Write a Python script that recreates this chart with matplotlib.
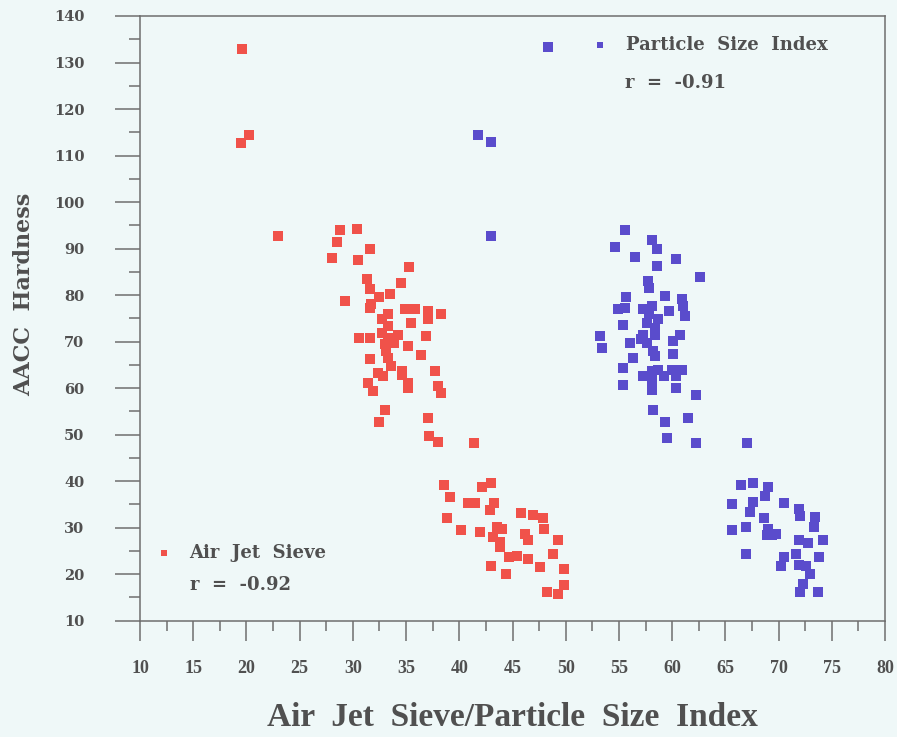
import matplotlib.pyplot as plt
import numpy as np
from matplotlib.ticker import MultipleLocator

# Air Jet Sieve vs AACC hardness
ajs_x = [19.6, 20.2, 19.5, 23.0,
         28.8, 30.4, 28.5, 31.6, 28.0, 30.5, 35.3, 31.3, 34.5, 31.6, 33.5, 32.5,
         29.3, 31.7, 31.6, 33.3, 34.9, 35.8, 37.1, 38.3, 37.1, 35.5, 32.7, 33.3,
         32.7, 30.6, 31.6, 33.3, 34.2, 36.9, 33.0, 33.9, 35.2, 33.1, 36.4, 31.6,
         33.3, 33.6, 32.4, 34.6, 32.8, 37.7, 31.4, 35.2, 31.9, 35.2, 38.0, 38.3,
         34.6, 33.0, 32.5, 37.1, 37.2, 38.0,
         41.4, 38.6, 39.1, 42.1, 43.0, 40.8, 41.5, 43.3, 42.9, 38.8, 40.2, 41.9,
         43.5, 44.0, 43.2, 43.8, 43.8, 45.8, 46.9, 47.9, 48.0, 46.2, 46.5, 49.3,
         48.8, 44.7, 45.4, 46.5, 47.6, 43.0, 44.4, 49.8, 49.8, 48.2, 49.3]
ajs_y = [133.0, 114.5, 112.8, 92.7,
         93.9, 94.2, 91.5, 89.9, 87.9, 87.6, 86.0, 83.4, 82.7, 81.3, 80.2, 79.5,
         78.7, 78.0, 77.3, 75.9, 77.0, 77.0, 76.6, 75.9, 74.8, 74.1, 74.8, 73.4,
         71.9, 70.8, 70.8, 70.8, 71.5, 71.2, 69.4, 69.8, 69.0, 68.0, 67.2, 66.2,
         66.5, 64.7, 63.3, 63.6, 62.6, 63.6, 61.1, 61.1, 59.3, 60.0, 60.4, 59.0,
         62.8, 55.4, 52.8, 53.5, 49.6, 48.5,
         48.2, 39.2, 36.6, 38.8, 39.5, 35.2, 35.3, 35.2, 33.8, 32.0, 29.4, 29.1,
         30.1, 29.8, 28.0, 26.9, 25.8, 33.2, 32.7, 32.0, 29.8, 28.7, 27.3, 27.3,
         24.4, 23.7, 24.0, 23.3, 21.5, 21.7, 20.1, 21.2, 17.6, 16.1, 15.8]

# Particle Size Index vs AACC hardness
psi_x = [48.3, 41.8, 43.0, 43.0,
         55.6, 54.6, 58.1, 58.6, 56.5, 60.4, 58.6, 62.6, 57.7, 57.8, 59.3, 55.7,
         60.9, 54.9, 55.6, 57.3, 58.1, 59.7, 61.0, 61.2, 57.8, 57.6, 58.7, 55.4,
         58.4, 57.3, 58.4, 60.7, 53.2, 53.4, 57.1, 56.0, 57.6, 60.1, 58.2, 58.4,
         60.1, 56.3, 55.4, 57.3, 58.1, 58.7, 60.0, 60.9, 59.2, 60.4, 58.1, 55.4,
         58.1, 60.4, 62.2, 58.2, 61.5, 59.3, 59.5, 62.2,
         67.0, 66.5, 67.6, 69.0, 68.7, 67.6, 65.6, 70.5, 67.3, 71.9, 72.0, 68.6,
         73.4, 73.3, 65.6, 66.9, 69.0, 69.4, 69.8, 68.9, 71.9, 72.8, 74.2, 66.9,
         71.6, 73.8, 70.5, 70.2, 71.9, 72.6, 73.0, 72.3, 72.0, 73.7]
psi_y = [133.3, 114.5, 113.0, 92.7,
         94.1, 90.3, 91.9, 89.9, 88.1, 87.7, 86.3, 83.8, 83.1, 81.5, 79.8, 79.5,
         79.1, 77.0, 77.2, 77.0, 77.7, 76.6, 77.7, 75.5, 75.9, 74.1, 74.8, 73.5,
         73.0, 71.5, 71.5, 71.5, 71.2, 68.7, 70.5, 69.8, 69.8, 70.1, 68.0, 66.9,
         67.3, 66.5, 64.4, 62.6, 63.6, 63.8, 64.0, 64.0, 62.6, 62.6, 61.5, 60.7,
         59.7, 60.0, 58.6, 55.4, 53.5, 52.8, 49.2, 48.3,
         48.2, 39.2, 39.7, 38.8, 36.8, 35.6, 35.1, 35.4, 33.4, 34.1, 32.6, 32.0,
         32.2, 30.1, 29.4, 30.1, 29.8, 28.4, 28.7, 28.4, 27.4, 26.6, 27.4, 24.4,
         24.4, 23.8, 23.7, 21.7, 21.9, 21.7, 20.1, 17.9, 16.1, 16.1]

bg = '#eff8f8'
grey = '#6e6e6e'
txt = '#505050'

fig = plt.figure(figsize=(8.97, 7.37), dpi=100, facecolor=bg)
ax = fig.add_axes([0.1561, 0.1578, 0.8305, 0.8205])
ax.set_facecolor(bg)

red = ax.scatter(ajs_x, ajs_y, marker='s', s=58, color='#f0524a', linewidths=0,
                 label='Air  Jet  Sieve')
blue = ax.scatter(psi_x, psi_y, marker='s', s=58, color='#5a4ccc', linewidths=0,
                  label='Particle  Size  Index')

ax.set_xlim(10, 80)
ax.set_ylim(10, 140)
ax.xaxis.set_major_locator(MultipleLocator(5))
ax.xaxis.set_minor_locator(MultipleLocator(2.5))
ax.yaxis.set_major_locator(MultipleLocator(10))
ax.yaxis.set_minor_locator(MultipleLocator(5))

for s in ax.spines.values():
    s.set_color(grey)
    s.set_linewidth(1.1)

ax.tick_params(axis='x', which='major', length=14.5, width=1.1, color=grey, pad=14)
ax.tick_params(axis='x', which='minor', length=7.5, width=1.1, color=grey)
ax.tick_params(axis='y', which='major', length=18, width=1.1, color=grey, pad=22)
ax.tick_params(axis='y', which='minor', length=8, width=1.1, color=grey)

for lab in ax.get_xticklabels():
    lab.set_fontfamily('Liberation Serif')
    lab.set_fontweight('bold')
    lab.set_fontsize(13)
    lab.set_color(txt)
for lab in ax.get_yticklabels():
    lab.set_fontfamily('DejaVu Serif')
    lab.set_fontweight('bold')
    lab.set_fontsize(10.5)
    lab.set_color(txt)

ax.set_xlabel('Air  Jet  Sieve/Particle  Size  Index', fontfamily='Liberation Serif',
              fontweight='bold', fontsize=24, color=txt, labelpad=18)
ax.set_ylabel('AACC  Hardness', fontfamily='DejaVu Serif', fontweight='bold',
              fontsize=16, color=txt)
ax.yaxis.set_label_coords(-0.141, 0.54)

# legends
leg_kw = dict(frameon=False, handlelength=1.0, handletextpad=0.9, borderpad=0,
              borderaxespad=0, markerscale=0.6,
              prop={'family': 'DejaVu Serif', 'weight': 'bold', 'size': 13})
leg1 = ax.legend(handles=[blue], loc='center left', bbox_to_anchor=(0.606, 0.952), **leg_kw)
for t in leg1.get_texts():
    t.set_color(txt)
ax.add_artist(leg1)
leg2 = ax.legend(handles=[red], loc='center left', bbox_to_anchor=(0.02, 0.112), **leg_kw)
for t in leg2.get_texts():
    t.set_color(txt)

ax.text(0.651, 0.89, 'r  =  -0.91', transform=ax.transAxes, va='center',
        fontfamily='DejaVu Serif', fontweight='bold', fontsize=13, color=txt)
ax.text(0.067, 0.059, 'r  =  -0.92', transform=ax.transAxes, va='center',
        fontfamily='DejaVu Serif', fontweight='bold', fontsize=13, color=txt)

fig.savefig('out.png', dpi=100, facecolor=bg)
